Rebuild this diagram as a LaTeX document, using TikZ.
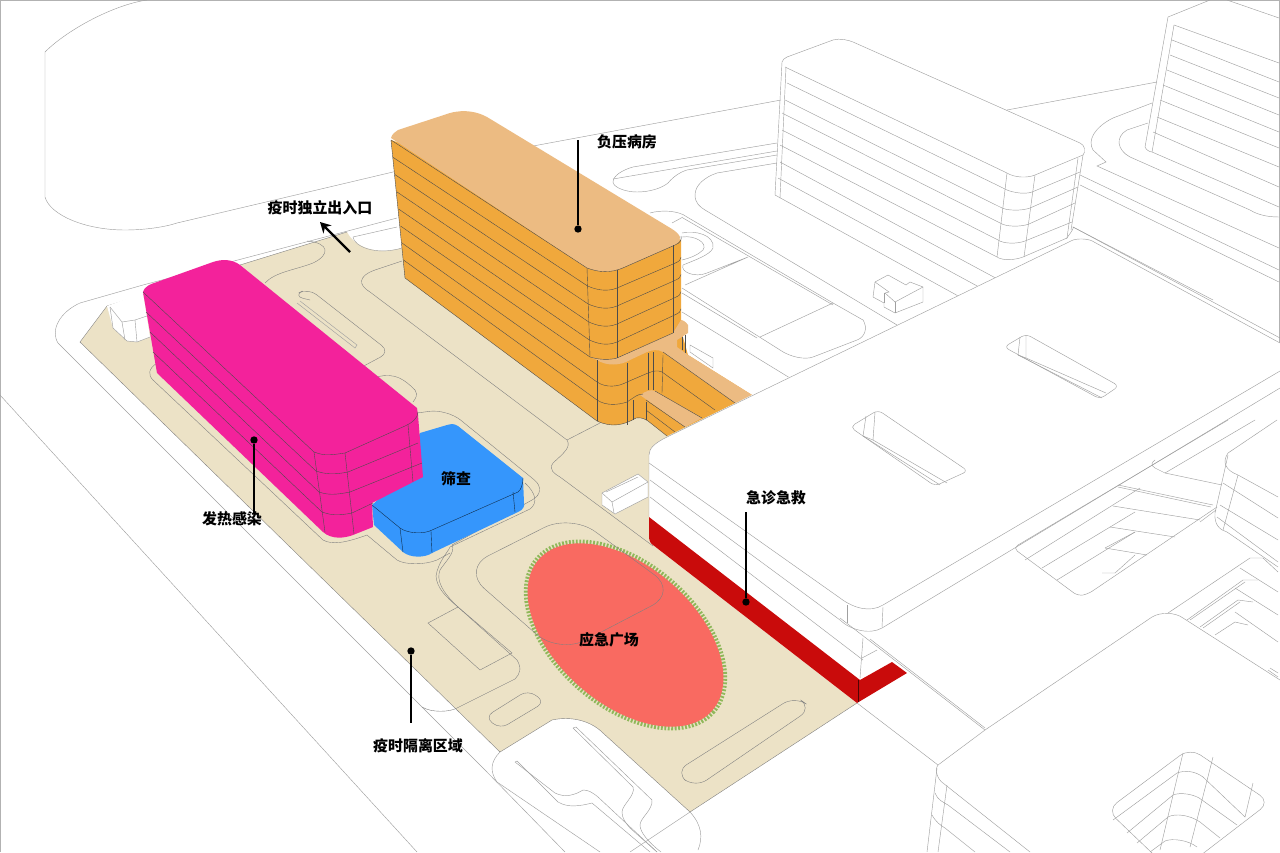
\documentclass[tikz,border=0pt]{standalone}
\usepackage{fontspec}
\usepackage{xcolor}
\usetikzlibrary{arrows.meta, positioning}
\newfontfamily\cjkfont{Noto Sans CJK SC}
\definecolor{siteTan}{RGB}{236,226,198}
\definecolor{feverPink}{RGB}{243,34,155}
\definecolor{screenBlue}{RGB}{53,150,252}
\definecolor{wardOrange}{RGB}{240,168,60}
\definecolor{wardRoof}{RGB}{236,187,130}
\definecolor{plazaRed}{RGB}{249,106,97}
\definecolor{plazaGreen}{RGB}{143,184,90}
\definecolor{erRed}{RGB}{201,11,11}
\definecolor{inkGray}{RGB}{160,160,160}

\begin{document}
\begin{tikzpicture}[
    x=0.02cm, y=-0.02cm,
    ln/.style={draw=inkGray, line width=0.25pt},
    siteln/.style={draw=black!50, line width=0.22pt},
    massln/.style={draw=black!70, line width=0.22pt},
    label/.style={font=\cjkfont\bfseries\fontsize{8.5}{10}\selectfont, inner sep=0pt, text=black},
    dotmark/.style={circle, fill=black, inner sep=0pt, minimum size=4.2pt},
    leader/.style={draw=black, line width=0.7pt},
    gatearr/.style={draw=black, line width=1.3pt, -{Stealth[length=6pt, width=6.5pt]}}
  ]
  \useasboundingbox (0,0) rectangle (1280,852);
  \clip (0,0) rectangle (1280,852);
  \fill[white] (0,0) rectangle (1280,852);
  \draw[draw=black!30, line width=0.5pt] (0.5,852) -- (0.5,0.5) -- (1279.5,0.5) -- (1279.5,852);

  % back block and outer road
  \draw[ln] (147,0) .. controls (113,5) and (67,30) .. (45,52) -- (45,197) .. controls (50,215) and (85,230) .. (125,230) .. controls (145,230) and (165,227) .. (177,223) -- (393,172) -- (781,100);
  \draw[ln] (397,218) -- (143,285) -- (80,303) .. controls (60,312) and (50,330) .. (58,343) -- (485,770) -- (565,852);
  \draw[ln] (0,395) -- (417,852);
  \draw[ln] (353,237) -- (397,227);

  % white tower
  \draw[ln] (782,62) .. controls (782,60) and (785,58) .. (787,57) -- (833,40) .. controls (840,38) and (848,40) .. (853,42) -- (1080,143) .. controls (1085,145) and (1086,152) .. (1083,155) -- (1035,175) .. controls (1028,178) and (1015,178) .. (1007,173) -- (785,67);
  \draw[ln] (782,62) -- (775,195) -- (960,297);
  \draw[ln] (786,67) -- (780,198);
  \foreach \k/\lx/\ly/\ax/\ay/\bx/\by/\rx/\ry in {1/787/83/1003/188/1032/192/1080/172, 2/785/100/1000/207/1030/208/1078/187, 3/782/113/1000/223/1029/224/1075/203, 4/782/130/998/240/1025/241/1072/222, 5/780/145/997/257/1023/257/1067/238} {
    \draw[ln] (\lx,\ly) -- (\ax,\ay) .. controls +(6,4) and +(-8,3) .. (\bx,\by) -- (\rx,\ry);
  }
  \draw[ln] (1007,173) -- (997,257);
  \draw[ln] (1035,175) -- (1024,257);
  \draw[ln] (1083,155) -- (1071,230);
  \draw[ln] (1078,158) -- (1067,238);
  \draw[ln] (780,162) -- (1003,282);
  \draw[ln] (778,178) -- (979,287);
  \draw[ln] (1007,110) -- (1157,82);
  \draw[ln] (1067,238) .. controls (1065,240) and (1075,228) .. (1073,227) -- (1213,300);

  % right tower
  \draw[ln] (1210,0) -- (1168,17) -- (1145,147) .. controls (1146,150) and (1150,152) .. (1152,152) -- (1279,207);
  \draw[ln] (1227,0) -- (1279,18);
  \draw[ln] (1174,25) -- (1152,152);
  \foreach \lx/\ly/\ry in {1174/25/63, 1172/40/82, 1170/55/98, 1167/70/115, 1163/85/132, 1160/100/148, 1157/117/167, 1153/132/187} {
    \draw[ln] (\lx,\ly) -- (1279,\ry);
  }
  \draw[ln] (1152,103) -- (1113,118) .. controls (1095,127) and (1087,140) .. (1093,150) -- (1106,162) -- (1097,166) -- (1279,248);
  \draw[ln] (1148,123) -- (1127,130) .. controls (1115,137) and (1117,150) .. (1130,157) -- (1250,210) .. controls (1258,215) and (1268,217) .. (1279,217);
  \draw[ln] (1080,175) -- (1279,270);
  \draw[ln] (1080,185) -- (1279,282);

  % roads behind the ward
  \draw[ln] (777,143) -- (633,167) .. controls (622,170) and (613,176) .. (613,182) .. controls (613,187) and (625,192) .. (637,192) .. controls (650,192) and (662,188) .. (668,183) .. controls (673,177) and (680,172) .. (687,170) -- (777,155);
  \draw[ln] (777,151) -- (613,179);
  \draw[ln] (777,163) -- (717,173) .. controls (705,177) and (695,185) .. (695,195) .. controls (695,203) and (700,207) .. (705,210) -- (897,325);
  \draw[ln] (650,213) .. controls (660,210) and (678,210) .. (687,217) -- (833,303) -- (863,320) .. controls (868,328) and (865,337) .. (857,340) -- (813,357) .. controls (805,360) and (790,357) .. (780,350) -- (682,288);
  \draw[ln] (683,218) -- (833,305);
  \draw[ln] (672,223) -- (683,217);
  \draw[ln] (833,303) -- (760,337);
  \draw[ln] (682,293) -- (757,338);
  \draw[ln] (682,233) .. controls (695,230) and (715,235) .. (713,248) .. controls (710,255) and (695,260) .. (683,265) .. controls (680,272) and (695,278) .. (707,273) -- (748,257) -- (685,285);
  \draw[ln] (682,237) .. controls (695,235) and (708,243) .. (703,250) .. controls (698,255) and (690,258) .. (682,260);
  \draw[ln] (682,312) -- (790,378);
  \draw[ln, fill=white] (690,345) -- (713,358) -- (713,368) -- (690,352) -- cycle;
  \draw[ln, fill=white] (875,282) -- (888,275) -- (906,285) -- (910,282) -- (923,287) -- (923,302) -- (895,313) -- (884,307) -- (884,303) -- (873,297) -- cycle;
  \draw[ln] (875,282) -- (889,292) -- (885,293) -- (895,302) -- (923,287);
  \draw[ln] (895,302) -- (895,313);
  \draw[ln] (884,293) -- (884,303);

  % site
  \fill[siteTan] (80,342) -- (107,306) -- (347,232) .. controls (354,246) and (375,256) .. (402,248) -- (600,400) -- (752,395) -- (857,703) -- (690,812) -- (603,733) .. controls (590,720) and (570,716) .. (552,720) -- (500,752) -- cycle;
  \draw[ln] (353,237) .. controls (354,246) and (375,256) .. (402,248);
  \draw[siteln] (107,306) -- (80,342) -- (500,752) -- (552,720) .. controls (570,716) and (590,720) .. (603,733) -- (690,812) -- (857,703);
  \draw[siteln] (107,306) -- (347,232);

  % white gate house
  \fill[white] (107,306) -- (143,293) -- (150,337) -- (137,342) -- (127,341) -- (113,328) -- cycle;
  \draw[ln] (110,307) -- (113,328) -- (127,341) -- (137,342) -- (150,337);
  \draw[ln] (110,307) -- (122,322) -- (135,320) -- (147,316);
  \draw[ln] (122,322) -- (125,340);
  \draw[ln] (135,320) -- (137,342);

  % site roads
  \draw[siteln] (265,283) .. controls (275,272) and (295,270) .. (313,263) .. controls (330,255) and (330,243) .. (307,241);
  \draw[siteln, rounded corners=6pt] (310,300) -- (293,296) -- (308,288) -- (390,352) -- (360,368);
  \draw[ln] (297,303) -- (355,348) -- (357,345) -- (300,301);
  \draw[siteln] (402,261) -- (375,270) .. controls (358,276) and (358,285) .. (370,292) -- (567,440) .. controls (571,447) and (565,452) .. (553,463) .. controls (548,470) and (555,474) .. (560,477) -- (653,546);
  \draw[siteln] (567,440) -- (600,423);
  \draw[siteln] (377,377) .. controls (395,372) and (405,380) .. (415,390) .. controls (418,395) and (416,398) .. (413,402);
  \draw[siteln, rounded corners=10pt] (417,413) -- (447,409) -- (548,491) -- (452,545);
  \draw[siteln] (452,545) .. controls (456,552) and (445,562) .. (440,570) .. controls (436,580) and (442,592) .. (458,607) -- (517,660) .. controls (522,668) and (520,674) .. (515,679) -- (457,708) .. controls (450,712) and (432,713) .. (422,707);
  \draw[siteln] (525,483) .. controls (536,493) and (538,503) .. (530,509) -- (450,547) .. controls (448,552) and (438,562) .. (436,576) .. controls (437,588) and (445,596) .. (458,607);
  \draw[siteln] (157,363) .. controls (148,369) and (148,375) .. (153,380) -- (323,540) .. controls (332,545) and (345,543) .. (367,535) -- (397,560) .. controls (405,565) and (425,565) .. (437,560) -- (450,553);
  \draw[siteln] (428,623) -- (458,607) -- (512,653) -- (480,670) -- cycle;
  \draw[siteln, rounded corners=8pt] (675,772) -- (795,696) -- (812,708) -- (695,788) -- cycle;
  \draw[siteln, rounded corners=5pt] (485,717) -- (528,690) -- (545,702) -- (500,729) -- cycle;

  % emergency plaza
  \draw[plazaGreen, line width=3.2pt, dash pattern=on 1.05pt off 0.9pt, shift={(625.5,635)}, rotate=-41] (0,0) ellipse [x radius=116, y radius=70];
  \fill[plazaRed, shift={(625.5,635)}, rotate=-41] (0,0) ellipse [x radius=115, y radius=69];
  \draw[siteln, rounded corners=17pt] (571,514) -- (462,569) -- (559,654) -- (678,592) -- cycle;

  % screening
  \fill[screenBlue] (372,505) -- (374,525) -- (403,552) .. controls (410,558) and (425,558) .. (432,553) -- (518,512) .. controls (523,510) and (525,506) .. (524,503) -- (523,478) -- (458,426) .. controls (453,423) and (450,424) .. (447,425) -- (420,433) -- (400,480) -- cycle;
  \draw[massln, black!70!screenBlue] (372,505) -- (400,528) .. controls (408,534) and (425,534) .. (432,530) -- (518,492) .. controls (521,490) and (523,484) .. (523,478);
  \draw[massln, black!70!screenBlue] (400,528) -- (403,552);
  \draw[massln, black!70!screenBlue] (431,531) -- (432,553);
  \draw[massln, black!70!screenBlue] (513,492) -- (515,512);

  % fever block
  \fill[feverPink] (143,292) -- (157,373) -- (323,532) .. controls (332,540) and (345,538) .. (353,535) -- (373,527) -- (372,503) -- (423,477) -- (418,415) -- (417,408) -- (240,265) .. controls (232,259) and (222,259) .. (213,262) -- (157,282) .. controls (150,284) and (144,287) .. (143,292) -- cycle;
  \draw[massln] (143,292) -- (314,452) .. controls +(9,3) and +(-20,3) .. (345,453) -- (405,426) .. controls (412,423) and (418,418) .. (418,412);
  \foreach \lx/\ly/\ax/\ay/\bx/\by/\rx/\ry in {146/312/316/471/348/472/418/443, 150/332/319/492/350/492/422/463, 153/352/322/512/352/513/373/503} {
    \draw[massln] (\lx,\ly) -- (\ax,\ay) .. controls +(9,3) and +(-15,3) .. (\bx,\by) -- (\rx,\ry);
  }
  \draw[massln] (314,452) -- (325,532);
  \draw[massln] (345,453) -- (354,534);
  \draw[massln] (408,425) -- (413,482);

  % negative pressure ward
  \fill[wardOrange] (391,140) -- (405,278) -- (597,421) .. controls (612,428) and (624,425) .. (636,418) .. controls (641,417) and (645,419) .. (648,421) -- (667,436) -- (752,395) -- (688,355) -- (681,330) -- (681,240) -- cycle;
  \draw[massln] (391,140) -- (405,278) -- (597,421) .. controls (612,428) and (624,425) .. (636,418) .. controls (641,417) and (645,419) .. (648,421) -- (667,436);
  \fill[wardRoof] (597,360) .. controls (606,366) and (620,366) .. (630,360) -- (647,352) .. controls (652,350) and (658,349) .. (663,352) -- (735,403) -- (752,395) -- (688,355) -- (677,347) -- (677,340) -- (688,333) -- (688,325) .. controls (686,322) and (683,320) .. (681,320) -- (673,333) -- (617,358) .. controls (610,360) and (600,360) .. (590,357) -- cycle;
  \fill[wardRoof] (640,395) .. controls (646,391) and (651,389) .. (655,391) -- (702,418) -- (685,427) -- (647,400) -- cycle;
  \fill[wardRoof] (391,138) .. controls (392,134) and (395,132) .. (398,130) -- (450,113) .. controls (465,109) and (478,112) .. (487,117) -- (672,229) .. controls (680,234) and (684,240) .. (675,245) -- (625,267) .. controls (610,274) and (598,272) .. (587,268) -- cycle;
  \draw[massln] (391,140) -- (587,268) .. controls (598,272) and (610,274) .. (625,267) -- (675,245) .. controls (680,243) and (682,240) .. (681,236);
  \foreach \k in {1,...,4} {
    \draw[massln] ({391+1.9*\k},{140+17.25*\k}) -- ({587+.6*\k},{268+18*\k}) .. controls +(9,4) and +(-10,4) .. (617,{270+18*\k}) -- (675,{246+17.2*\k}) .. controls +(4,-2) and +(0,3) .. (681,{240+17.2*\k});
  }
  \draw[massln] (400.5,226) -- (590,357) .. controls (600,360) and (610,360) .. (617,358) -- (673,333);
  \draw[massln] (402,243) -- (597,382) .. controls (606,388) and (618,387) .. (627,382) -- (648,373) .. controls (653,371) and (658,370) .. (662,372) -- (715,410);
  \draw[massln] (403.5,260) -- (597,400) .. controls (606,406) and (618,405) .. (627,402) -- (633,398) .. controls (637,395) and (640,394) .. (643,394);
  \draw[massln] (646,410) -- (675,432);
  \draw[massln] (646,400) -- (685,427);
  \draw[massln] (655,391) -- (702,418);
  \draw[massln] (663,352) -- (735,403);
  \draw[massln] (587,268) -- (590,357);
  \draw[massln] (617,270) -- (617,358);
  \draw[massln] (673,245) -- (673,333);
  \draw[massln] (597,360) -- (597,421);
  \draw[massln] (627,363) -- (627,425);
  \draw[massln] (648,353) -- (648,390);
  \draw[massln] (653,352) -- (653,390);
  \draw[massln] (663,355) -- (662,393);
  \draw[massln] (633,400) -- (633,420);
  \draw[massln] (646,402) -- (646,420);
  \draw[massln] (682,337) -- (682,350);
  \draw[massln] (685,335) -- (685,353);

  % small white box
  \draw[ln, fill=white] (602,493) -- (638,474) -- (648,482) -- (648,497) -- (615,514) -- (602,505) -- cycle;
  \draw[ln] (602,493) -- (612,502) -- (648,482);
  \draw[ln] (612,502) -- (614,513);
  \draw[ln] (606,492) -- (638,477);

  % emergency building
  \fill[white] (752,395) -- (667,437) .. controls (655,443) and (649,448) .. (649,455) -- (649,537) .. controls (649,541) and (651,544) .. (653,545) -- (857,703) -- (938,765) -- (938,852) -- (1280,852) -- (1280,343) -- (1094,242) .. controls (1090,239) and (1080,238) .. (1073,240) -- cycle;
  \draw[ln] (649,517) -- (649,455) .. controls (649,448) and (655,443) .. (667,437) -- (1073,240) .. controls (1080,238) and (1090,239) .. (1094,242) -- (1280,343);
  \draw[ln] (1073,227) -- (1280,338);
  \draw[ln] (649,463) -- (840,598) .. controls (853,608) and (870,613) .. (883,605) -- (1280,371);
  \draw[ln] (650,480) -- (840,620) .. controls (850,630) and (870,635) .. (882,628) -- (1280,388);
  \draw[ln] (650,497) -- (863,660);
  \draw[ln] (847,605) -- (847,623);
  \draw[ln] (883,607) -- (882,627);
  \draw[ln] (863,638) -- (860,678);
  \draw[ln] (862,658) -- (877,650);
  \draw[ln] (840,618) -- (985,730);
  \draw[ln] (870,639) -- (985,728);

  % emergency courtyards
  \draw[ln, rounded corners=3pt] (1004,347) -- (1026,334) -- (1119,386) -- (1100,399) -- cycle;
  \draw[ln] (1026,335) -- (1026,358) -- (1106,393);
  \draw[ln] (1020,337) -- (1018,355) -- (1102,398);
  \draw[ln] (1018,355) -- (1026,358);
  \draw[ln, rounded corners=3pt] (850,427) -- (878,410) -- (968,471) -- (935,486) -- cycle;
  \draw[ln] (875,412) -- (873,440) -- (947,483);
  \draw[ln] (866,416) -- (863,436) -- (940,485);
  \draw[ln] (863,436) -- (873,440);

  % stairs and wells on the right
  \draw[ln, rounded corners=3pt] (1228,420) -- (1013,548) -- (1078,596) -- (1088,594) -- (1217,507);
  \draw[ln] (1255,420) -- (1165,473) -- (1155,468) .. controls (1150,465) and (1152,462) .. (1155,460);
  \draw[ln] (1165,473) -- (1222,485);
  \draw[ln] (1025,560) -- (1140,488);
  \draw[ln] (1042,568) -- (1135,512);
  \draw[ln] (1057,580) -- (1135,532);
  \draw[ln] (1118,485) -- (1213,505);
  \draw[ln] (1118,487) -- (1211,507);
  \draw[ln] (1113,506) -- (1200,520);
  \draw[ln] (1110,527) -- (1175,537);
  \draw[ln] (1105,548) -- (1147,555);
  \draw[ln] (1105,548) -- (1135,532);
  \draw[ln] (1102,573) -- (1115,573) -- (1135,555);
  \draw[ln] (1277,420) -- (1228,453) .. controls (1222,462) and (1225,470) .. (1238,475) -- (1278,497);
  \draw[ln] (1228,455) -- (1215,513) .. controls (1214,525) and (1220,530) .. (1227,532) -- (1278,567);
  \draw[ln] (1238,475) -- (1223,530);
  \draw[ln] (1223,483) -- (1278,518);
  \draw[ln] (1220,505) -- (1278,540);
  \draw[ln] (1217,517) -- (1278,562);
  \draw[ln] (1200,522) -- (1216,510);
  \draw[ln] (1168,613) -- (1250,558) -- (1263,558) -- (1278,572);
  \draw[ln] (1187,620) -- (1243,580) -- (1258,580);
  \draw[ln] (1190,620) -- (1245,582);
  \draw[ln] (1200,627) -- (1238,600) -- (1253,602);
  \draw[ln] (1203,628) -- (1240,602);
  \draw[ln] (1215,635) -- (1235,622) -- (1248,625);
  \draw[ln] (1240,568) -- (1278,592);
  \draw[ln] (1235,588) -- (1278,615);
  \draw[ln] (1235,612) -- (1278,642);
  \draw[ln] (1268,670) -- (1278,677);
  \draw[ln] (1270,668) -- (1278,673);

  % lower right block
  \draw[ln] (857,703) -- (938,765) -- (985,730) -- (1152,617) .. controls (1160,612) and (1175,612) .. (1183,618) -- (1280,680);
  \draw[ln] (938,765) .. controls (934,770) and (938,780) .. (943,783) -- (1030,852);
  \draw[ln] (937,768) -- (927,852);
  \draw[ln] (947,785) -- (938,852);
  \draw[ln] (935,793) .. controls (937,800) and (945,803) .. (948,805) -- (1010,852);
  \draw[ln] (932,815) .. controls (936,822) and (940,825) .. (945,828) -- (975,852);
  \draw[ln, rounded corners=7pt] (1107,810) -- (1190,748) -- (1270,802) -- (1175,875) -- cycle;
  \draw[ln] (1113,820) -- (1177,773) .. controls (1185,770) and (1195,771) .. (1203,777) -- (1245,817);
  \draw[ln] (1127,833) -- (1173,795) .. controls (1180,792) and (1195,794) .. (1202,800) -- (1237,825);
  \draw[ln] (1137,843) -- (1168,817) .. controls (1175,813) and (1190,815) .. (1200,822) -- (1220,838);
  \draw[ln] (1150,852) -- (1165,841) .. controls (1172,838) and (1188,840) .. (1197,847);
  \draw[ln] (1183,753) -- (1160,850);
  \draw[ln] (1213,757) -- (1190,847);
  \draw[ln] (1253,783) -- (1245,817);

  % lower entrance
  \draw[ln] (500,752) .. controls (490,762) and (490,772) .. (497,782) -- (600,852);
  \draw[ln] (630,852) -- (690,812) .. controls (702,825) and (703,838) .. (698,850);
  \draw[ln] (573,728) -- (633,787) .. controls (636,795) and (622,805) .. (622,812) .. controls (622,818) and (625,822) .. (630,828) -- (657,852);
  \draw[ln] (576,727) -- (652,800) .. controls (653,810) and (640,818) .. (640,825) .. controls (640,832) and (648,842) .. (661,852);
  \draw[ln] (515,762) -- (555,793) .. controls (565,798) and (575,795) .. (583,790) .. controls (588,790) and (592,792) .. (598,797) -- (657,852);
  \draw[ln] (517,761) -- (558,802) .. controls (568,808) and (580,806) .. (592,803) -- (650,852);
  \draw[ln] (573,728) -- (576,727);
  \draw[ln] (515,762) -- (517,761);

  % emergency frontage
  \fill[erRed] (649,517) -- (860,680) -- (892,662) -- (907,673) -- (857,703) -- (653,545) .. controls (651,544) and (649,541) .. (649,537) -- cycle;
  \draw[draw=black!60!erRed, line width=0.25pt] (858,680) -- (858,702);

  % labels
  \node[label] (fuya) at (627,142) {负压病房};
  \node[label] (gate) at (320,208) {疫时独立出入口};
  \node[label] (fever) at (232,519) {发热感染};
  \node[label] (screen) at (456,479) {筛查};
  \node[label] (jizhen) at (776,498) {急诊急救};
  \node[label] (plaza) at (609,640) {应急广场};
  \node[label] (quyu) at (418,746) {疫时隔离区域};

  \node[dotmark] (fuyaDot) at (578,229) {};
  \node[dotmark] (feverDot) at (254,440) {};
  \node[dotmark] (jizhenDot) at (746,602) {};
  \node[dotmark] (quyuDot) at (411,651) {};
  \coordinate (fuyaEnd) at (578,140);
  \coordinate (feverEnd) at (254,513);
  \coordinate (jizhenEnd) at (746,512);
  \coordinate (quyuEnd) at (411,723);
  \coordinate (gateFrom) at (350,252);
  \coordinate (gateTo) at (320,222);

  \draw[leader] (fuyaDot) -- (fuyaEnd);
  \draw[leader] (feverDot) -- (feverEnd);
  \draw[leader] (jizhenDot) -- (jizhenEnd);
  \draw[leader] (quyuDot) -- (quyuEnd);
  \draw[gatearr] (gateFrom) -- (gateTo);
\end{tikzpicture}
\end{document}
